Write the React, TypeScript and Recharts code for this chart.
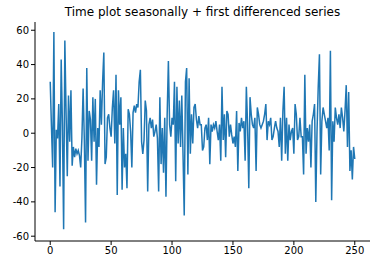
import { Line, LineChart, XAxis, YAxis } from "recharts";

// seasonally + first differenced series (index 0..250)
const seriesValues: number[] = [
  30, 4, -20, 59, -46, 2, -3, 17, -31, 43,
  5, -56, 54, 12, -25, 22, -5, 25, -19, -8,
  -14, -9, -12, -10, -13, -20, -3, 26, -4, -52,
  38, -16, 13, 8, -16, 21, -5, 20, -30, 3,
  -8, 25, 5, 30, 47, -18, -14, 9, 11, 3,
  -2, 15, 25, -6, 34, -36, 25, 5, 21, -33,
  3, -20, -12, -32, 14, 11, 1, -20, 12, 16,
  12, 17, 15, 30, 37, -5, -12, -4, 19, 13,
  -34, 5, 9, 3, 8, -2, 1, 5, -3, -34,
  21, -18, 3, -23, 9, -37, 11, 42, 5, -2,
  9, 5, 30, -28, 27, -6, 19, -8, 22, -12,
  -48, 30, 38, -24, 32, -12, 11, -6, 15, 17,
  8, 3, 10, 5, 5, -10, -8, 3, 5, -4,
  9, -18, 5, 1, 5, 3, 7, 1, -4, 5,
  -16, 27, -4, 11, -14, 13, 11, -2, 5, -1,
  -6, -2, -8, 13, -22, 6, 1, 9, 3, 7,
  -16, 27, 5, -32, 21, 11, 5, 3, 9, -22,
  15, 11, 5, 3, 5, 7, 11, 17, -4, 7,
  5, 9, -4, -2, 3, 7, 3, 1, -8, 9,
  -16, 13, 27, -12, 9, -16, 5, -4, 1, 3,
  -12, 17, 11, -4, -2, 9, -2, -2, -24, 34,
  -12, 3, -5, 5, -20, 7, 11, 17, -40, 1,
  27, 46, -24, 7, 15, 11, 7, 3, 9, -10,
  48, -39, 7, -5, 15, 9, 5, 11, 3, 15,
  9, 1, 13, 28, -8, 24, -22, -10, -27, -8,
  -15,
];

const xTicks = [0, 50, 100, 150, 200, 250];
const yTicks = [-60, -40, -20, 0, 20, 40, 60];

const chartData = seriesValues.map((v, i) => ({ t: i, value: v }));

const tickStyle = { fontSize: 10, fill: "#000", fontFamily: "DejaVu Sans" };

export default function App() {
  return (
    <div
      style={{
        position: "absolute",
        left: 0,
        top: 0,
        width: 380,
        height: 264,
        background: "#fff",
        fontFamily: "DejaVu Sans",
      }}
    >
      <div
        style={{
          position: "absolute",
          left: 35,
          width: 335,
          top: 5,
          textAlign: "center",
          fontSize: 12,
          color: "#000",
        }}
      >
        Time plot seasonally + first differenced series
      </div>
      <LineChart
        width={380}
        height={264}
        data={chartData}
        margin={{ top: 22, right: 10, bottom: 0, left: 0 }}
      >
        <XAxis
          dataKey="t"
          type="number"
          domain={[-12.5, 262.5]}
          ticks={xTicks}
          allowDataOverflow
          height={23}
          tickSize={4}
          tick={tickStyle}
          stroke="#000"
          tickLine={{ stroke: "#000" }}
        />
        <XAxis
          xAxisId="top"
          orientation="top"
          type="number"
          domain={[0, 1]}
          height={0}
          tick={false}
          tickLine={false}
          stroke="#000"
        />
        <YAxis
          type="number"
          domain={[-62.8, 64.8]}
          ticks={yTicks}
          allowDataOverflow
          width={35}
          tickSize={4}
          tick={tickStyle}
          stroke="#000"
          tickLine={{ stroke: "#000" }}
        />
        <YAxis
          yAxisId="right"
          orientation="right"
          type="number"
          domain={[0, 1]}
          width={0}
          tick={false}
          tickLine={false}
          stroke="#000"
        />
        <Line
          type="linear"
          dataKey="value"
          stroke="#1f77b4"
          strokeWidth={1.5}
          dot={false}
          isAnimationActive={false}
        />
      </LineChart>
    </div>
  );
}
